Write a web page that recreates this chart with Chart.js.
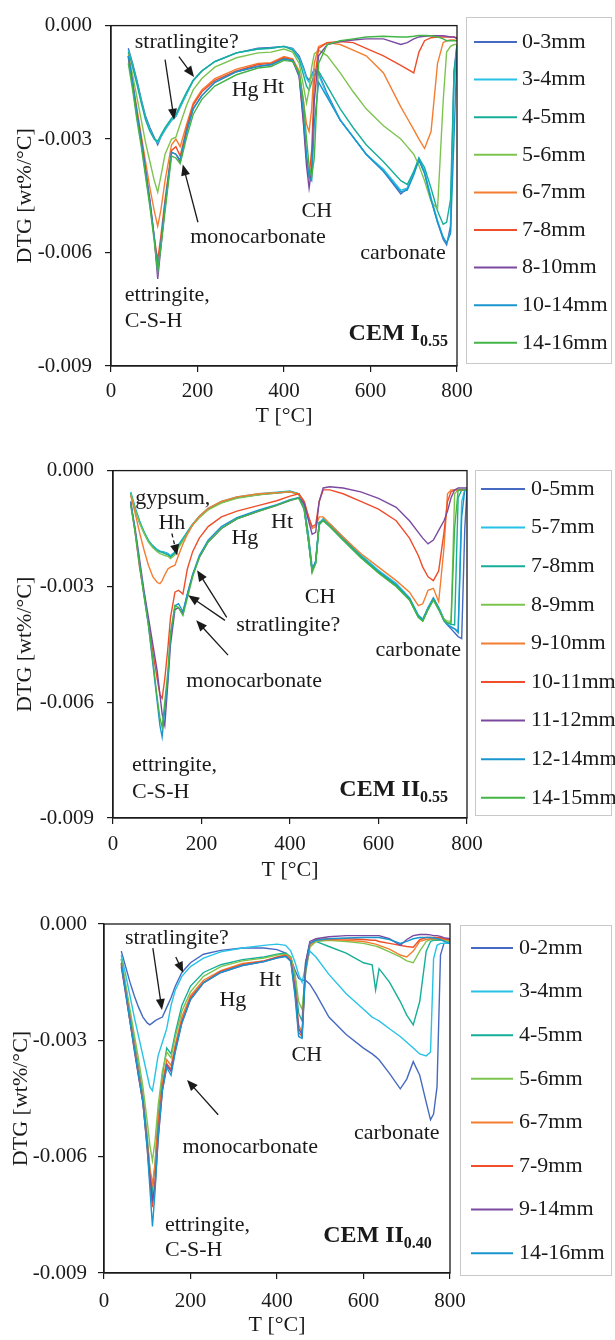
<!DOCTYPE html>
<html>
<head>
<meta charset="utf-8">
<script src="https://cdn.jsdelivr.net/npm/chart.js@4.4.1/dist/chart.umd.min.js"></script>
<style>
  body { margin: 0; background: #fff; }
  .panel { position: absolute; left: 0; }
  canvas { display: block; }
</style>
</head>
<body>
<div class="panel" style="top:0"><canvas id="cemI" width="615" height="440"></canvas></div>
<div class="panel" style="top:445px"><canvas id="cemII55" width="615" height="445"></canvas></div>
<div class="panel" style="top:900px"><canvas id="cemII40" width="615" height="440"></canvas></div>
<script>
// ── Data (DTG in 10^-3 wt%/°C) ──────────────────────────────────
const tempTicks = [0, 200, 400, 600, 800];
const dtgTicks = [-9, -6, -3, 0];

// CEM I 0.55
const tempI = [40, 50, 60, 70, 80, 90, 100, 108, 115, 125, 140, 150, 160, 175, 190, 210, 240, 290, 340, 370,
  400, 420, 435, 445, 452, 458, 464, 470, 480, 500, 530, 560, 590, 630, 670, 685, 700, 712, 725, 740,
  755, 768, 776, 785, 793, 800];
const depthI = ['0-3mm', '3-4mm', '4-5mm', '5-6mm', '6-7mm', '7-8mm', '8-10mm', '10-14mm', '14-16mm'];
const i_0_3 = [-0.6, -1.0, -1.45, -1.95, -2.4, -2.7, -2.95, -3.15, -2.95, -2.75,
  -2.5, -2.4, -2.15, -1.8, -1.45, -1.2, -0.95, -0.72, -0.6, -0.58,
  -0.55, -0.6, -0.8, -1.1, -1.35, -1.45, -1.3, -1.15, -1.25, -1.8,
  -2.5, -2.95, -3.4, -3.85, -4.45, -4.3, -3.9, -3.55, -3.9, -4.6,
  -5.2, -5.65, -5.8, -5.3, -1.2, -0.5];
const i_3_4 = [-0.65, -1.05, -1.5, -2.0, -2.45, -2.75, -3.0, -3.1, -2.95, -2.75,
  -2.5, -2.4, -2.15, -1.8, -1.45, -1.2, -0.95, -0.72, -0.62, -0.6,
  -0.55, -0.62, -0.85, -1.15, -1.4, -1.5, -1.35, -1.2, -1.3, -1.85,
  -2.5, -2.95, -3.4, -3.8, -4.35, -4.3, -3.9, -3.5, -3.85, -4.55,
  -5.15, -5.6, -5.75, -5.45, -1.6, -0.6];
const i_4_5 = [-0.7, -1.1, -1.55, -2.05, -2.5, -2.8, -3.0, -3.05, -2.9, -2.7,
  -2.45, -2.35, -2.1, -1.75, -1.45, -1.2, -0.95, -0.72, -0.62, -0.6,
  -0.55, -0.65, -0.9, -1.3, -1.6, -1.7, -1.5, -1.3, -1.2, -1.6,
  -2.2, -2.7, -3.15, -3.6, -4.1, -4.2, -3.85, -3.5, -3.75, -4.3,
  -4.9, -5.25, -5.2, -4.6, -1.3, -0.5];
const i_5_6 = [-0.75, -1.3, -1.9, -2.5, -3.1, -3.6, -4.1, -4.4, -4.0, -3.4,
  -3.0, -2.95, -2.6, -2.1, -1.7, -1.4, -1.1, -0.85, -0.72, -0.7,
  -0.62, -0.7, -1.0, -1.6, -2.05, -1.7, -1.1, -0.75, -0.65, -0.8,
  -1.25, -1.75, -2.2, -2.65, -3.0, -3.2, -3.4, -3.7, -4.1, -4.65,
  -4.85, -2.0, -0.7, -0.55, -0.5, -0.5];
const i_6_7 = [-0.8, -1.5, -2.2, -2.9, -3.6, -4.3, -4.9, -5.3, -4.9, -4.1,
  -3.15, -3.0, -3.2, -2.6, -2.05, -1.7, -1.4, -1.15, -1.0, -0.98,
  -0.82, -0.88, -1.2, -2.0, -2.6, -2.8, -2.2, -1.0, -0.55, -0.45,
  -0.5, -0.65, -0.8, -1.25, -2.15, -2.45, -2.75, -3.0, -3.25, -2.8,
  -1.0, -0.45, -0.4, -0.38, -0.38, -0.4];
const i_7_8 = [-0.85, -1.6, -2.4, -3.1, -3.9, -4.7, -5.6, -6.2, -5.6, -4.6,
  -3.3, -3.2, -3.45, -2.7, -2.1, -1.75, -1.45, -1.2, -1.03, -1.0,
  -0.85, -0.9, -1.3, -2.5, -3.5, -4.0, -3.3, -1.5, -0.6, -0.45,
  -0.42, -0.45, -0.6, -0.8, -1.05, -1.15, -1.25, -0.7, -0.4, -0.32,
  -0.3, -0.3, -0.3, -0.3, -0.3, -0.32];
const i_8_10 = [-0.8, -1.5, -2.3, -3.0, -3.8, -4.6, -5.6, -6.7, -5.9, -4.8,
  -3.35, -3.4, -3.6, -2.8, -2.2, -1.85, -1.5, -1.22, -1.08, -1.04,
  -0.88, -0.93, -1.35, -2.6, -3.7, -4.3, -3.8, -2.0, -0.8, -0.5,
  -0.42, -0.38, -0.35, -0.35, -0.5, -0.45, -0.35, -0.3, -0.28, -0.27,
  -0.27, -0.27, -0.28, -0.3, -0.3, -0.35];
const i_10_14 = [-0.8, -1.55, -2.35, -3.1, -3.9, -4.7, -5.6, -6.45, -5.8, -4.7,
  -3.35, -3.4, -3.55, -2.8, -2.2, -1.85, -1.5, -1.22, -1.07, -1.03,
  -0.88, -0.92, -1.3, -2.3, -3.4, -4.0, -4.1, -2.6, -1.5, -1.9,
  -2.5, -2.95, -3.4, -3.85, -4.4, -4.35, -3.95, -3.55, -3.9, -4.6,
  -5.2, -5.6, -5.75, -5.5, -3.0, -0.7];
const i_14_16 = [-1.0, -1.7, -2.5, -3.2, -4.0, -4.8, -5.7, -6.5, -5.9, -4.9,
  -3.45, -3.5, -3.65, -2.95, -2.35, -1.95, -1.6, -1.3, -1.12, -1.08,
  -0.92, -0.95, -1.25, -2.0, -3.0, -3.7, -4.0, -3.5, -1.0, -0.5,
  -0.4, -0.35, -0.3, -0.28, -0.3, -0.3, -0.28, -0.26, -0.26, -0.27,
  -0.3, -0.35, -0.4, -0.4, -0.4, -0.4];

// CEM II 0.55
const tempII = [40, 50, 60, 70, 80, 90, 100, 106, 111, 117, 124, 130, 140, 148, 158, 168, 180, 195, 215, 245,
  280, 330, 370, 400, 420, 432, 442, 450, 458, 466, 475, 490, 520, 560, 600, 640, 670, 690, 700, 712,
  724, 736, 748, 756, 764, 772, 780, 788, 795, 800];
const depthII = ['0-5mm', '5-7mm', '7-8mm', '8-9mm', '9-10mm', '10-11mm', '11-12mm', '12-14mm', '14-15mm'];
const ii_0_5 = [-0.6, -1.0, -1.35, -1.6, -1.82, -1.95, -2.05, -2.1, -2.1, -2.12,
  -2.15, -2.22, -2.15, -1.95, -1.78, -1.6, -1.4, -1.2, -1.0, -0.82,
  -0.7, -0.62, -0.58, -0.55, -0.6, -0.9, -1.7, -2.5, -2.4, -1.4,
  -1.25, -1.4, -1.75, -2.2, -2.6, -2.95, -3.3, -3.75, -3.85, -3.55,
  -3.3, -3.55, -3.85, -4.0, -4.1, -4.2, -4.3, -4.35, -1.5, -0.5];
const ii_5_7 = [-0.55, -0.95, -1.3, -1.58, -1.8, -1.95, -2.05, -2.08, -2.1, -2.12,
  -2.15, -2.2, -2.1, -1.92, -1.75, -1.58, -1.38, -1.18, -0.98, -0.8,
  -0.68, -0.6, -0.56, -0.53, -0.6, -0.95, -1.75, -2.6, -2.35, -1.35,
  -1.25, -1.38, -1.72, -2.18, -2.58, -2.92, -3.3, -3.75, -3.85, -3.55,
  -3.3, -3.55, -3.85, -3.98, -4.05, -4.1, -4.15, -0.8, -0.5, -0.5];
const ii_7_8 = [-0.58, -0.98, -1.32, -1.6, -1.82, -1.97, -2.07, -2.1, -2.12, -2.15,
  -2.18, -2.25, -2.12, -1.95, -1.78, -1.6, -1.4, -1.2, -1.0, -0.82,
  -0.7, -0.62, -0.57, -0.54, -0.6, -0.95, -1.8, -2.6, -2.35, -1.35,
  -1.28, -1.42, -1.77, -2.22, -2.62, -2.97, -3.32, -3.78, -3.88, -3.58,
  -3.32, -3.58, -3.88, -3.95, -3.98, -4.0, -0.7, -0.5, -0.5, -0.5];
const ii_8_9 = [-0.6, -1.0, -1.35, -1.62, -1.85, -2.0, -2.1, -2.15, -2.17, -2.2,
  -2.22, -2.28, -2.18, -2.0, -1.82, -1.63, -1.42, -1.22, -1.02, -0.84,
  -0.72, -0.63, -0.58, -0.55, -0.62, -1.0, -1.85, -2.65, -2.4, -1.35,
  -1.3, -1.45, -1.8, -2.25, -2.65, -3.0, -3.35, -3.8, -3.9, -3.6,
  -3.35, -3.6, -3.85, -3.9, -3.9, -0.6, -0.5, -0.5, -0.5, -0.5];
const ii_9_10 = [-0.65, -1.1, -1.6, -2.05, -2.45, -2.75, -2.9, -2.93, -2.85, -2.7,
  -2.55, -2.5, -2.45, -2.2, -1.9, -1.65, -1.4, -1.18, -0.98, -0.8,
  -0.68, -0.6, -0.57, -0.55, -0.6, -0.8, -1.2, -1.5, -1.45, -1.2,
  -1.2, -1.38, -1.72, -2.15, -2.5, -2.85, -3.15, -3.5, -3.45, -3.1,
  -3.05, -3.4, -2.0, -0.6, -0.5, -0.5, -0.5, -0.5, -0.5, -0.5];
const ii_10_11 = [-0.8, -1.6, -2.5, -3.2, -3.9, -4.7, -5.4, -5.8, -5.9, -5.4,
  -4.6, -3.8, -3.15, -3.1, -3.2, -2.55, -2.1, -1.75, -1.45, -1.2,
  -1.05, -0.9, -0.78, -0.66, -0.6, -0.8, -1.2, -1.45, -1.4, -0.8,
  -0.5, -0.5, -0.6, -0.8, -1.0, -1.3, -1.75, -2.2, -2.5, -2.75,
  -2.85, -2.6, -1.6, -0.8, -0.55, -0.5, -0.5, -0.5, -0.5, -0.5];
const ii_11_12 = [-0.85, -1.5, -2.3, -3.1, -3.8, -4.5, -5.2, -5.8, -6.3, -6.6,
  -5.5, -4.5, -3.6, -3.55, -3.7, -3.2, -2.7, -2.25, -1.85, -1.5,
  -1.25, -1.05, -0.9, -0.78, -0.7, -0.85, -1.3, -1.65, -1.6, -0.8,
  -0.45, -0.42, -0.45, -0.55, -0.72, -0.95, -1.3, -1.6, -1.75, -1.9,
  -1.8, -1.55, -1.3, -1.05, -0.7, -0.5, -0.45, -0.45, -0.45, -0.45];
const ii_12_14 = [-0.8, -1.55, -2.4, -3.2, -4.0, -5.0, -6.0, -6.6, -6.9, -6.2,
  -5.4, -4.3, -3.5, -3.45, -3.65, -3.2, -2.7, -2.2, -1.8, -1.45,
  -1.22, -1.02, -0.88, -0.75, -0.7, -1.0, -1.85, -2.6, -2.35, -1.35,
  -1.3, -1.45, -1.8, -2.25, -2.62, -2.97, -3.32, -3.78, -3.88, -3.58,
  -3.32, -3.58, -3.9, -4.0, -4.05, -4.1, -4.2, -1.2, -0.5, -0.5];
const ii_14_15 = [-0.9, -1.6, -2.45, -3.25, -4.0, -4.9, -5.9, -6.4, -6.65, -6.0,
  -5.2, -4.2, -3.5, -3.55, -3.75, -3.3, -2.75, -2.25, -1.85, -1.5,
  -1.25, -1.05, -0.9, -0.77, -0.72, -1.0, -1.85, -2.6, -2.4, -1.4,
  -1.3, -1.45, -1.8, -2.25, -2.65, -3.0, -3.35, -3.8, -3.9, -3.6,
  -3.35, -3.6, -3.88, -3.95, -3.95, -1.5, -0.5, -0.5, -0.5, -0.5];

// CEM II 0.40
const tempIII = [40, 50, 60, 70, 80, 90, 100, 106, 112, 118, 125, 135, 145, 155, 165, 180, 200, 230, 270, 320,
  370, 400, 420, 432, 442, 450, 458, 466, 476, 490, 520, 560, 600, 620, 628, 636, 660, 685, 700, 715,
  730, 745, 755, 762, 770, 778, 786, 800];
const depthIII = ['0-2mm', '3-4mm', '4-5mm', '5-6mm', '6-7mm', '7-9mm', '9-14mm', '14-16mm'];
const iii_0_2 = [-0.7, -1.1, -1.5, -1.85, -2.15, -2.4, -2.55, -2.6, -2.55, -2.5,
  -2.45, -2.4, -2.15, -1.9, -1.6, -1.25, -1.0, -0.78, -0.68, -0.62,
  -0.62, -0.66, -0.75, -0.9, -1.2, -1.4, -1.45, -1.45, -1.55, -1.8,
  -2.4, -2.85, -3.2, -3.35, -3.42, -3.5, -3.85, -4.25, -4.0, -3.55,
  -3.9, -4.6, -5.05, -4.9, -4.2, -0.8, -0.5, -0.5];
const iii_3_4 = [-0.8, -1.3, -1.85, -2.4, -2.9, -3.4, -3.9, -4.2, -4.3, -3.9,
  -3.4, -3.05, -2.7, -2.1, -1.7, -1.35, -1.1, -0.88, -0.72, -0.62,
  -0.55, -0.52, -0.55, -0.7, -1.0, -1.3, -1.5, -1.1, -0.7, -0.85,
  -1.3, -1.8, -2.2, -2.4, -2.45, -2.5, -2.7, -2.9, -3.05, -3.2,
  -3.35, -3.4, -3.3, -0.9, -0.55, -0.5, -0.5, -0.5];
const iii_4_5 = [-0.9, -1.6, -2.3, -3.0, -3.7, -4.4, -5.5, -6.3, -6.9, -6.2,
  -5.0, -3.9, -3.2, -3.35, -2.8, -2.1, -1.6, -1.25, -1.05, -0.92,
  -0.85, -0.78, -0.75, -0.85, -1.4, -2.3, -2.5, -1.0, -0.5, -0.45,
  -0.58, -0.75, -1.0, -1.05, -1.7, -1.15, -1.5, -2.0, -2.35, -2.6,
  -2.0, -0.7, -0.45, -0.42, -0.42, -0.42, -0.42, -0.45];
const iii_5_6 = [-0.9, -1.55, -2.2, -2.85, -3.5, -4.2, -5.1, -5.7, -6.1, -5.6,
  -4.7, -3.8, -3.3, -3.45, -2.9, -2.25, -1.75, -1.35, -1.1, -0.95,
  -0.88, -0.8, -0.78, -0.85, -1.3, -2.0, -2.2, -1.3, -0.6, -0.45,
  -0.42, -0.45, -0.5, -0.55, -0.57, -0.6, -0.72, -0.85, -0.95, -1.0,
  -0.7, -0.45, -0.4, -0.4, -0.4, -0.4, -0.4, -0.45];
const iii_6_7 = [-1.0, -1.7, -2.4, -3.1, -3.8, -4.5, -5.6, -6.3, -6.7, -6.2,
  -5.1, -4.1, -3.5, -3.65, -3.1, -2.4, -1.85, -1.45, -1.2, -1.02,
  -0.95, -0.85, -0.8, -0.9, -1.6, -2.6, -2.8, -1.2, -0.55, -0.42,
  -0.4, -0.42, -0.45, -0.5, -0.52, -0.55, -0.65, -0.8, -0.85, -0.7,
  -0.45, -0.4, -0.38, -0.38, -0.38, -0.38, -0.38, -0.42];
const iii_7_9 = [-1.05, -1.75, -2.5, -3.2, -3.9, -4.6, -5.8, -6.6, -7.3, -6.6,
  -5.3, -4.2, -3.6, -3.75, -3.2, -2.5, -1.9, -1.5, -1.22, -1.05,
  -0.95, -0.86, -0.82, -0.95, -1.8, -2.8, -2.9, -1.1, -0.5, -0.4,
  -0.38, -0.38, -0.4, -0.42, -0.42, -0.45, -0.5, -0.55, -0.58, -0.6,
  -0.4, -0.35, -0.35, -0.35, -0.35, -0.35, -0.38, -0.4];
const iii_9_14 = [-1.1, -1.8, -2.5, -3.25, -3.95, -4.6, -5.7, -6.5, -7.1, -6.8,
  -5.6, -4.3, -3.65, -3.8, -3.25, -2.55, -1.95, -1.52, -1.25, -1.07,
  -0.97, -0.87, -0.83, -0.95, -1.7, -2.7, -2.85, -1.0, -0.45, -0.38,
  -0.33, -0.3, -0.3, -0.3, -0.3, -0.3, -0.38, -0.55, -0.4, -0.3,
  -0.27, -0.27, -0.28, -0.3, -0.3, -0.32, -0.35, -0.38];
const iii_14_16 = [-1.0, -1.75, -2.5, -3.2, -3.9, -4.6, -5.8, -6.8, -7.8, -6.9,
  -5.5, -4.3, -3.7, -3.9, -3.3, -2.55, -1.95, -1.52, -1.25, -1.07,
  -0.97, -0.88, -0.84, -0.97, -1.9, -2.9, -2.95, -1.2, -0.5, -0.42,
  -0.38, -0.36, -0.35, -0.35, -0.35, -0.35, -0.4, -0.5, -0.45, -0.38,
  -0.35, -0.35, -0.35, -0.36, -0.38, -0.4, -0.45, -0.5];

// ── Look ────────────────────────────────────────────────
const SERIF = '"Liberation Serif", "Times New Roman", serif';
const INK = '#1a1a1a';
const BLUE = '#4669c1', CYAN = '#27c3e6', TEAL = '#16ae98', LGREEN = '#7dc44f', ORANGE = '#f47d30',
  RED = '#ee4e2b', PURPLE = '#7b4aa0', AZURE = '#1996cf', GREEN = '#43b547';
const colors9 = [BLUE, CYAN, TEAL, LGREEN, ORANGE, RED, PURPLE, AZURE, GREEN];
const colors8 = [BLUE, CYAN, TEAL, LGREEN, ORANGE, RED, PURPLE, AZURE];

Chart.defaults.color = INK;
Chart.defaults.font.family = SERIF;

// plot frame (top and right edges as well)
const framePlugin = {
  id: 'frame',
  afterDatasetsDraw(chart) {
    const { ctx, chartArea: a } = chart;
    ctx.save();
    ctx.strokeStyle = INK;
    ctx.lineWidth = 1.3;
    ctx.strokeRect(a.left, a.top, a.right - a.left, a.bottom - a.top);
    ctx.restore();
  }
};

// boxed legend at the right, Excel style
function sideLegend(lg) {
  return {
    id: 'sideLegend',
    afterDraw(chart) {
      const ctx = chart.ctx;
      ctx.save();
      ctx.strokeStyle = '#c9c9c9';
      ctx.lineWidth = 1;
      ctx.strokeRect(lg.box[0] + 0.5, lg.box[1] + 0.5, lg.box[2] - lg.box[0], lg.box[3] - lg.box[1]);
      ctx.font = `22px ${SERIF}`;
      ctx.textBaseline = 'middle';
      ctx.fillStyle = INK;
      chart.data.datasets.forEach((ds, i) => {
        const y = lg.y0 + i * lg.dy;
        ctx.strokeStyle = ds.borderColor;
        ctx.lineWidth = 2;
        ctx.beginPath();
        ctx.moveTo(lg.x0, y);
        ctx.lineTo(lg.x1, y);
        ctx.stroke();
        ctx.fillText(ds.label, lg.tx, y);
      });
      ctx.restore();
    }
  };
}

// peak labels, arrows and the panel title
function notes(nt) {
  return {
    id: 'notes',
    afterDraw(chart) {
      const { ctx, scales: { x, y } } = chart;
      ctx.save();
      ctx.fillStyle = INK;
      ctx.strokeStyle = INK;
      ctx.font = `22px ${SERIF}`;
      ctx.textBaseline = 'middle';
      nt.texts.forEach(n => {
        ctx.textAlign = n.a || 'center';
        ctx.fillText(n.t, x.getPixelForValue(n.x), y.getPixelForValue(n.y));
      });
      nt.arrows.forEach(ar => {
        const x0 = x.getPixelForValue(ar.from[0]), y0 = y.getPixelForValue(ar.from[1]);
        const x1 = x.getPixelForValue(ar.to[0]), y1 = y.getPixelForValue(ar.to[1]);
        const c = Math.cos(Math.atan2(y1 - y0, x1 - x0)), s = Math.sin(Math.atan2(y1 - y0, x1 - x0));
        ctx.lineWidth = 1.3;
        ctx.setLineDash(ar.dash ? [4, 3] : []);
        ctx.beginPath();
        ctx.moveTo(x0, y0);
        ctx.lineTo(x1 - 8 * c, y1 - 8 * s);
        ctx.stroke();
        ctx.setLineDash([]);
        ctx.beginPath();
        ctx.moveTo(x1, y1);
        ctx.lineTo(x1 - 11 * c + 4.5 * s, y1 - 11 * s - 4.5 * c);
        ctx.lineTo(x1 - 11 * c - 4.5 * s, y1 - 11 * s + 4.5 * c);
        ctx.closePath();
        ctx.fill();
      });
      const t = nt.title;
      const bx = x.getPixelForValue(t.x), by = y.getPixelForValue(t.y);
      ctx.textAlign = 'left';
      ctx.textBaseline = 'alphabetic';
      ctx.font = `bold 16px ${SERIF}`;
      const sw = ctx.measureText(t.sub).width;
      ctx.font = `bold 24px ${SERIF}`;
      const mw = ctx.measureText(t.main).width;
      ctx.fillText(t.main, bx - sw - mw, by);
      ctx.font = `bold 16px ${SERIF}`;
      ctx.fillText(t.sub, bx - sw, by + 6);
      ctx.restore();
    }
  };
}

function makePanel(id, p) {
  const canvas = document.getElementById(id);
  const H = canvas.height;
  const tickFont = { family: SERIF, size: 21 };
  const axisLine = { display: true, color: INK, width: 1.3 };
  const tickMarks = { display: true, drawOnChartArea: false, drawTicks: true, tickLength: 6, color: INK, lineWidth: 1.2 };
  return new Chart(canvas, {
    type: 'line',
    data: {
      datasets: p.series.map((vals, i) => ({
        label: p.depths[i],
        data: vals.map((v, k) => ({ x: p.temps[k], y: v })),
        borderColor: p.colors[i],
        borderWidth: 1.4,
        pointRadius: 0,
        tension: 0,
        fill: false,
        order: -i
      }))
    },
    options: {
      responsive: false,
      animation: false,
      events: [],
      layout: { padding: { left: 0, top: p.area.top, right: 615 - p.area.right, bottom: p.titleBottom } },
      plugins: { legend: { display: false }, tooltip: { enabled: false } },
      scales: {
        x: {
          type: 'linear', min: 0, max: 800,
          afterBuildTicks: s => { s.ticks = tempTicks.map(v => ({ value: v })); },
          afterFit: s => { s.height = H - p.area.bottom - p.titleBottom; },
          ticks: { font: tickFont, color: INK, padding: p.xPad, maxRotation: 0, autoSkip: false },
          grid: tickMarks,
          border: axisLine,
          title: { display: true, text: 'T [°C]', color: INK, font: { family: SERIF, size: 22 }, padding: 0 }
        },
        y: {
          type: 'linear', min: -9, max: 0,
          afterBuildTicks: s => { s.ticks = dtgTicks.map(v => ({ value: v })); },
          afterFit: s => { s.width = p.area.left; },
          ticks: { font: tickFont, color: INK, padding: p.yPad, callback: v => (v / 1000).toFixed(3) },
          grid: tickMarks,
          border: axisLine,
          title: { display: true, text: 'DTG [wt%/°C]', color: INK, font: { family: SERIF, size: 22 }, padding: { top: p.yTitle, bottom: 0 } }
        }
      }
    },
    plugins: [framePlugin, sideLegend(p.legend), notes(p.notes)]
  });
}

makePanel('cemI', {
  temps: tempI, depths: depthI, colors: colors9,
  series: [i_0_3, i_3_4, i_4_5, i_5_6, i_6_7, i_7_8, i_8_10, i_10_14, i_14_16],
  area: { left: 111, right: 457, top: 15, bottom: 366 },
  titleBottom: 11, xPad: 7, yPad: 13, yTitle: 12,
  legend: { box: [466, 17, 611, 363], y0: 42, dy: 37.6, x0: 474, x1: 517, tx: 522 },
  notes: {
    texts: [
      { t: 'stratlingite?', x: 55, y: -0.44, a: 'left' },
      { t: 'Hg', x: 310, y: -1.72 },
      { t: 'Ht', x: 375, y: -1.62 },
      { t: 'CH', x: 476, y: -4.92 },
      { t: 'monocarbonate', x: 340, y: -5.59 },
      { t: 'carbonate', x: 675, y: -6.03 },
      { t: 'ettringite,', x: 32, y: -7.13, a: 'left' },
      { t: 'C-S-H', x: 32, y: -7.82, a: 'left' }
    ],
    arrows: [
      { from: [125, -0.9], to: [146, -2.49] },
      { from: [157, -0.82], to: [192, -1.36] },
      { from: [201, -5.2], to: [166, -3.67] }
    ],
    title: { main: 'CEM I', sub: '0.55', x: 779, y: -8.31 }
  }
});

makePanel('cemII55', {
  temps: tempII, depths: depthII, colors: colors9,
  series: [ii_0_5, ii_5_7, ii_7_8, ii_8_9, ii_9_10, ii_10_11, ii_11_12, ii_12_14, ii_14_15],
  area: { left: 113, right: 467, top: 25, bottom: 373 },
  titleBottom: 7, xPad: 8, yPad: 13, yTitle: 12,
  legend: { box: [475, 25, 611, 370], y0: 44, dy: 38.6, x0: 481, x1: 525, tx: 531 },
  notes: {
    texts: [
      { t: 'gypsum,', x: 50, y: -0.72, a: 'left' },
      { t: 'Hh', x: 133, y: -1.37 },
      { t: 'Hg', x: 298, y: -1.76 },
      { t: 'Ht', x: 382, y: -1.34 },
      { t: 'CH', x: 468, y: -3.28 },
      { t: 'stratlingite?', x: 396, y: -4.0 },
      { t: 'monocarbonate', x: 319, y: -5.45 },
      { t: 'carbonate', x: 690, y: -4.65 },
      { t: 'ettringite,', x: 43, y: -7.62, a: 'left' },
      { t: 'C-S-H', x: 43, y: -8.32, a: 'left' }
    ],
    arrows: [
      { from: [133, -1.63], to: [145, -2.2], dash: true },
      { from: [257, -3.8], to: [190, -2.58] },
      { from: [253, -3.88], to: [170, -3.23] },
      { from: [260, -4.78], to: [188, -3.88] }
    ],
    title: { main: 'CEM II', sub: '0.55', x: 757, y: -8.42 }
  }
});

makePanel('cemII40', {
  temps: tempIII, depths: depthIII, colors: colors8,
  series: [iii_0_2, iii_3_4, iii_4_5, iii_5_6, iii_6_7, iii_7_9, iii_9_14, iii_14_16],
  area: { left: 104, right: 450, top: 24, bottom: 373 },
  titleBottom: 2, xPad: 10, yPad: 11, yTitle: 8,
  legend: { box: [460, 25, 611, 375], y0: 48, dy: 43.6, x0: 471, x1: 513, tx: 519 },
  notes: {
    texts: [
      { t: 'stratlingite?', x: 48.5, y: -0.36, a: 'left' },
      { t: 'Hg', x: 298, y: -1.96 },
      { t: 'Ht', x: 384, y: -1.44 },
      { t: 'CH', x: 469, y: -3.38 },
      { t: 'monocarbonate', x: 338, y: -5.75 },
      { t: 'carbonate', x: 677, y: -5.39 },
      { t: 'ettringite,', x: 141, y: -7.76, a: 'left' },
      { t: 'C-S-H', x: 141, y: -8.4, a: 'left' }
    ],
    arrows: [
      { from: [113, -0.62], to: [134, -2.22] },
      { from: [166, -0.85], to: [183, -1.26] },
      { from: [264, -4.92], to: [192, -4.02] }
    ],
    title: { main: 'CEM II', sub: '0.40', x: 758, y: -8.19 }
  }
});
</script>
</body>
</html>
